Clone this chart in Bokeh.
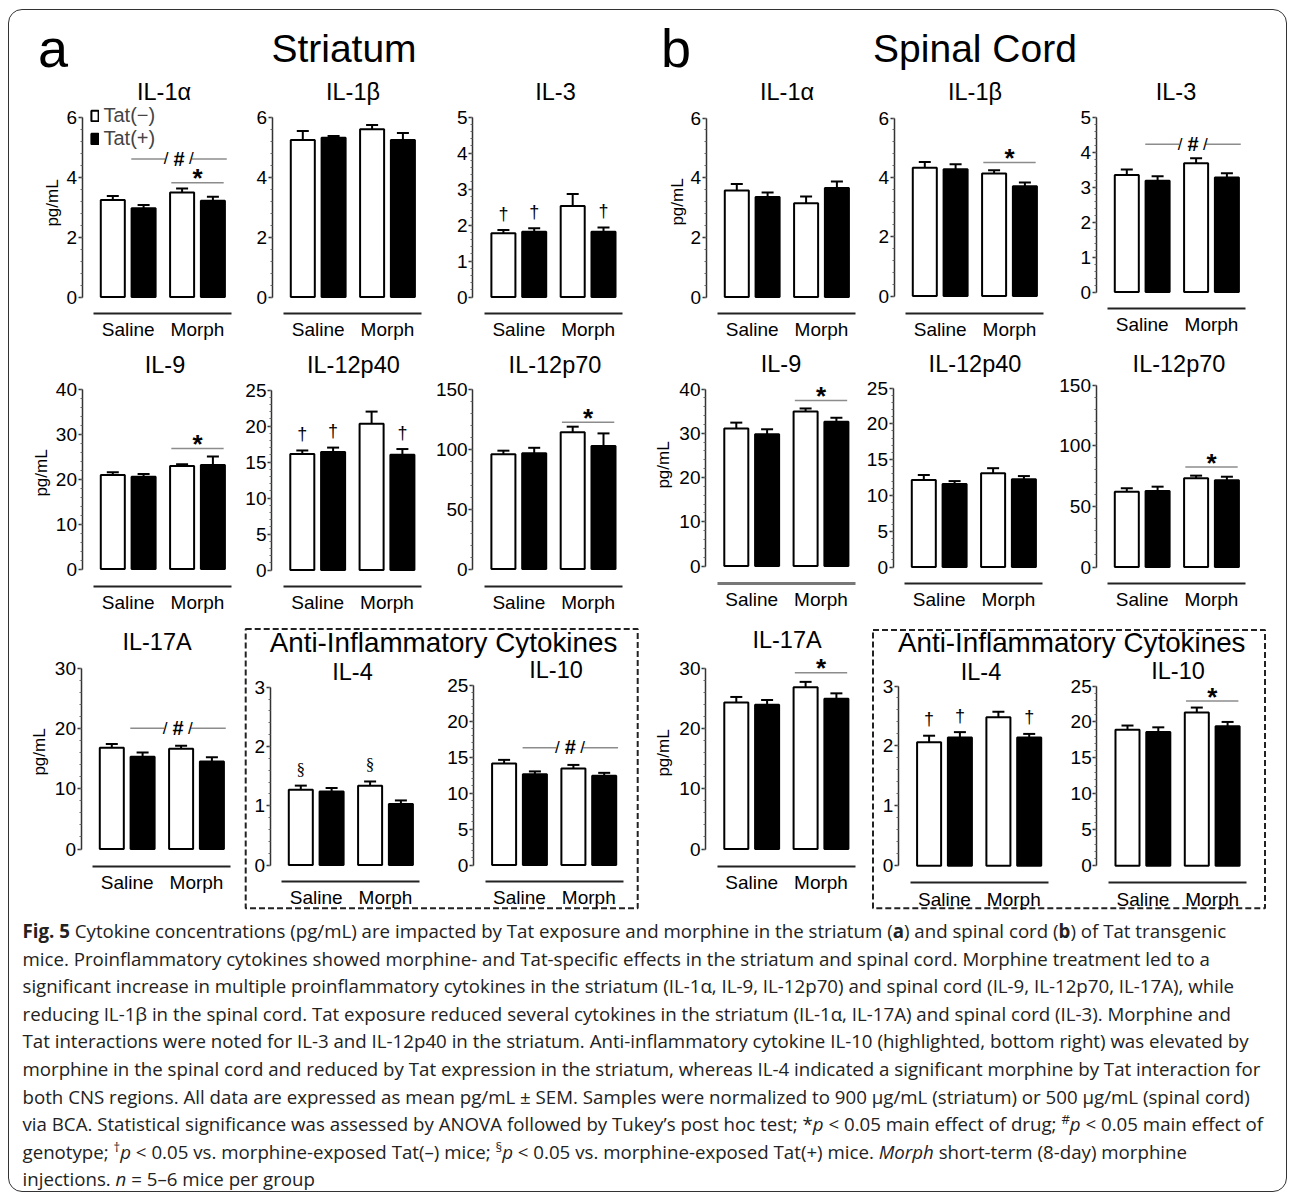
import math
from bokeh.plotting import figure
from bokeh.models import (Range1d, LinearAxis, FixedTicker, SingleIntervalTicker,
                          ColumnDataSource, Whisker, TeeHead, Legend, LegendItem, Div)
from bokeh.layouts import column
from bokeh.embed import file_html
from bokeh.resources import INLINE
from bokeh.core.properties import value

# ------------------------------------------------------------------ data
groups = ["Saline", "Morph"]
genotypes = ["Tat(−)", "Tat(+)"]
cytokines = ["IL-1α", "IL-1β", "IL-3", "IL-9", "IL-12p40", "IL-12p70", "IL-17A", "IL-4", "IL-10"]

striatum_ymax = [6, 6, 5, 40, 25, 150, 30, 3, 25]
striatum_step = [2, 2, 1, 10, 5, 50, 10, 1, 5]
# order: Saline Tat(-), Saline Tat(+), Morph Tat(-), Morph Tat(+)
striatum_mean = [
    [3.23, 2.96, 3.48, 3.21],
    [5.23, 5.31, 5.59, 5.23],
    [1.77, 1.81, 2.53, 1.81],
    [20.9, 20.5, 22.9, 23.1],
    [16.1, 16.4, 20.3, 16.0],
    [95.6, 96.4, 113.9, 102.5],
    [16.8, 15.3, 16.6, 14.5],
    [1.27, 1.24, 1.34, 1.03],
    [14.1, 12.6, 13.4, 12.4],
]
striatum_sem = [
    [0.14, 0.11, 0.14, 0.13],
    [0.30, 0.06, 0.14, 0.24],
    [0.09, 0.10, 0.33, 0.12],
    [0.6, 0.6, 0.4, 1.9],
    [0.5, 0.6, 1.7, 0.8],
    [3.0, 4.6, 4.7, 10.5],
    [0.6, 0.7, 0.5, 0.7],
    [0.07, 0.06, 0.07, 0.06],
    [0.5, 0.4, 0.5, 0.4],
]
striatum_drug = [3.81, None, None, 26.8, None, 122.2, None, None, None]      # * bar level
striatum_geno = [4.6, None, None, None, None, None, 20.0, None, 16.3]        # # bar level
striatum_dagger = [[], [], [0, 1, 3], [], [0, 1, 3], [], [], [], []]
striatum_section = [[], [], [], [], [], [], [], [0, 2], []]

spinal_ymax = [6, 6, 5, 40, 25, 150, 30, 3, 25]
spinal_step = [2, 2, 1, 10, 5, 50, 10, 1, 5]
spinal_mean = [
    [3.57, 3.35, 3.14, 3.65],
    [4.32, 4.27, 4.13, 3.70],
    [3.34, 3.18, 3.68, 3.27],
    [31.1, 29.8, 34.9, 32.6],
    [12.15, 11.6, 13.1, 12.25],
    [62.1, 62.7, 73.1, 71.5],
    [24.3, 23.9, 26.8, 24.9],
    [2.06, 2.14, 2.48, 2.14],
    [18.9, 18.6, 21.3, 19.4],
]
spinal_sem = [
    [0.22, 0.15, 0.23, 0.22],
    [0.20, 0.17, 0.11, 0.13],
    [0.16, 0.13, 0.14, 0.12],
    [1.3, 1.1, 0.7, 0.9],
    [0.7, 0.4, 0.7, 0.45],
    [2.8, 3.5, 2.2, 2.9],
    [0.9, 0.8, 0.9, 0.9],
    [0.11, 0.09, 0.09, 0.06],
    [0.6, 0.65, 0.7, 0.6],
]
spinal_drug = [None, 4.50, None, 37.4, None, 82.4, 29.2, None, 22.9]
spinal_geno = [None, None, 4.22, None, None, None, None, None, None]
spinal_dagger = [[], [], [], [], [], [], [], [0, 1, 3], []]
spinal_section = [[], [], [], [], [], [], [], [], []]

caption_lines = [
    "<b>Fig. 5</b> Cytokine concentrations (pg/mL) are impacted by Tat exposure and morphine in the striatum (<b>a</b>) and spinal cord (<b>b</b>) of Tat transgenic",
    "mice. Proinflammatory cytokines showed morphine- and Tat-specific effects in the striatum and spinal cord. Morphine treatment led to a",
    "significant increase in multiple proinflammatory cytokines in the striatum (IL-1α, IL-9, IL-12p70) and spinal cord (IL-9, IL-12p70, IL-17A), while",
    "reducing IL-1β in the spinal cord. Tat exposure reduced several cytokines in the striatum (IL-1α, IL-17A) and spinal cord (IL-3). Morphine and",
    "Tat interactions were noted for IL-3 and IL-12p40 in the striatum. Anti-inflammatory cytokine IL-10 (highlighted, bottom right) was elevated by",
    "morphine in the spinal cord and reduced by Tat expression in the striatum, whereas IL-4 indicated a significant morphine by Tat interaction for",
    "both CNS regions. All data are expressed as mean pg/mL ± SEM. Samples were normalized to 900 μg/mL (striatum) or 500 μg/mL (spinal cord)",
    "via BCA. Statistical significance was assessed by ANOVA followed by Tukey’s post hoc test; *<i>p</i> &lt; 0.05 main effect of drug; <sup>#</sup><i>p</i> &lt; 0.05 main effect of",
    "genotype; <sup>†</sup><i>p</i> &lt; 0.05 vs. morphine-exposed Tat(–) mice; <sup>§</sup><i>p</i> &lt; 0.05 vs. morphine-exposed Tat(+) mice. <i>Morph</i> short-term (8-day) morphine",
    "injections. <i>n</i> = 5–6 mice per group",
]

# ------------------------------------------------------------------ layout (page px)
striatum_geo = [
    dict(ax=82, y0=297, yt=117, line=313, tx=164, tb=100, ylab=(52, 203)),
    dict(ax=272, y0=297, yt=117, line=313, tx=353, tb=100),
    dict(ax=472.6, y0=297, yt=117, line=313, tx=555.5, tb=100),
    dict(ax=82, y0=569, yt=389, line=586, tx=165, tb=373, ylab=(41, 473)),
    dict(ax=271.5, y0=570, yt=390, line=586, tx=353.4, tb=373),
    dict(ax=472.6, y0=569, yt=389, line=586, tx=555, tb=373),
    dict(ax=81, y0=849, yt=668, line=866, tx=157, tb=650, ylab=(39, 752)),
    dict(ax=270, y0=865, yt=687.3, line=881, tx=352.5, tb=680),
    dict(ax=473.3, y0=865, yt=685, line=881, tx=556, tb=678),
]
spinal_geo = [
    dict(ax=706, y0=297, yt=118, line=313, tx=787, tb=100, ylab=(677, 202)),
    dict(ax=894, y0=296, yt=118, line=313, tx=975, tb=100),
    dict(ax=1096, y0=292, yt=117, line=308, tx=1176, tb=100),
    dict(ax=705.5, y0=566, yt=389, line=583, tx=781, tb=372, ylab=(663, 465), lc="#777", lw=3),
    dict(ax=893, y0=567, yt=388, line=583, tx=975, tb=372),
    dict(ax=1096, y0=567, yt=385, line=583, tx=1179, tb=372),
    dict(ax=705.5, y0=849, yt=668, line=866, tx=787, tb=648, ylab=(663, 753)),
    dict(ax=898.3, y0=865.7, yt=686, line=882.5, tx=981, tb=680),
    dict(ax=1096.7, y0=865.7, yt=686, line=882.5, tx=1178, tb=679),
]

W, HF, HC = 1277, 906, 275
MARGIN_TOP, MARGIN_LEFT, BORDER = 9, 8, 1.5
OX, OY = MARGIN_LEFT + BORDER, MARGIN_TOP + BORDER   # page position of the figure origin
SX = 30.8                  # px per x unit inside a panel
FONT = "Liberation Sans"
MID = 0.36                 # em distance from alphabetic baseline to em-box middle


def fx(xp):
    return xp - OX


def fy(yp):
    return yp - OY


p = figure(width=W, height=HF, x_range=Range1d(0, W), y_range=Range1d(HF, 0),
           x_axis_type=None, y_axis_type=None, toolbar_location=None,
           output_backend="svg", min_border=0, outline_line_color=None,
           background_fill_alpha=0, border_fill_alpha=0)


def txt(x, y, s, size, upu=-1.0, align="center", baseline="alphabetic", bold=False,
        font=FONT, angle=0.0, color="black", **kw):
    # y is given as the alphabetic baseline; rendered with a "middle" anchor
    if baseline == "alphabetic":
        y = y + upu * MID * size
        baseline = "middle"
    p.text(x=[x], y=[y], text=[s], text_font=value(font), text_font_size="%gpx" % size,
           text_align=align, text_baseline=baseline, angle=angle, text_color=color,
           text_font_style="bold" if bold else "normal", **kw)


def draw_panel(key, name, ymax, step, mean, sem, drug, geno, dag, sec, g, legend=False):
    axf = g["ax"] - OX
    pxu = (g["y0"] - g["yt"]) / ymax
    y0f = g["y0"] - OY
    xn, yn = "x" + key, "y" + key
    p.extra_x_ranges[xn] = Range1d(-axf / SX, (W - axf) / SX)
    p.extra_y_ranges[yn] = Range1d(-(HF - y0f) / pxu, y0f / pxu)
    kw = dict(x_range_name=xn, y_range_name=yn)
    up = 1.0 / pxu

    xs = [1 + gi * 2.25 + ti for gi in range(len(groups)) for ti in range(len(genotypes))]
    hi = [m + e for m, e in zip(mean, sem)]
    rends = []
    for ti, fill in enumerate(["white", "black"]):
        idx = [gi * 2 + ti for gi in range(len(groups))]
        src = ColumnDataSource(dict(x=[xs[i] for i in idx], top=[mean[i] for i in idx],
                                    hi=[hi[i] for i in idx]))
        r = p.vbar(x="x", top="top", bottom=0, width=0.78, source=src, fill_color=fill,
                   line_color="black", line_width=2, **kw)
        p.add_layout(Whisker(source=src, base="x", lower="top", upper="hi", dimension="height",
                             line_width=2, line_color="black",
                             upper_head=TeeHead(size=12, line_width=2, line_color="black"),
                             lower_head=None, **kw))
        rends.append(r)

    yax = LinearAxis(fixed_location=0, bounds=(0, ymax),
                     ticker=SingleIntervalTicker(interval=step, num_minor_ticks=5),
                     axis_line_width=1.5, axis_line_color="#333",
                     major_tick_out=4, major_tick_in=0, major_tick_line_width=1.5,
                     major_tick_line_color="#333",
                     minor_tick_out=2, minor_tick_in=0, minor_tick_line_color="#666",
                     major_label_standoff=1, major_label_text_font_size="19px",
                     major_label_text_font=FONT, major_label_text_color="black", **kw)
    p.add_layout(yax, "left")

    lv = -(g["line"] - g["y0"]) / pxu
    centers = [(xs[0] + xs[1]) / 2, (xs[2] + xs[3]) / 2]
    overrides = {}
    for c, gname in zip(centers, groups):
        overrides[c] = gname
        overrides[str(c)] = gname
    xax = LinearAxis(fixed_location=lv, bounds=(0.38, 4.87),
                     ticker=FixedTicker(ticks=centers, minor_ticks=[]),
                     major_label_overrides=overrides,
                     axis_line_width=g.get("lw", 2), axis_line_color=g.get("lc", "#222"),
                     major_tick_out=0, major_tick_in=0, major_tick_line_color=None,
                     minor_tick_line_color=None, major_label_standoff=6,
                     major_label_text_font_size="19px", major_label_text_font=FONT,
                     major_label_text_color="black", **kw)
    p.add_layout(xax, "below")

    # significance: drug effect (*)
    if drug is not None:
        p.segment(x0=[2.9], x1=[4.6], y0=[drug], y1=[drug], line_color="#8c8c8c",
                  line_width=1.5, **kw)
        txt(3.75, drug - 5 * up, "*", 26, upu=up, bold=True, **kw)
    # genotype effect (#)
    if geno is not None:
        mid = 3.15
        p.segment(x0=[1.6, mid + 0.42], x1=[mid - 0.45, 4.7], y0=[geno, geno], y1=[geno, geno],
                  line_color="#8c8c8c", line_width=1.5, **kw)
        txt(mid, geno - 7 * up, "#", 20, upu=up, bold=True, **kw)
        txt(mid - 0.42, geno - 6 * up, "/", 17, upu=up, **kw)
        txt(mid + 0.40, geno - 6 * up, "/", 17, upu=up, **kw)
    for i in dag:
        txt(xs[i], hi[i] + 10 * up, "†", 18, upu=up, **kw)
    for i in sec:
        txt(xs[i], hi[i] + 10.5 * up, "§", 17, upu=up, font="Liberation Serif", **kw)

    # title and y label
    txt(fx(g["tx"]), fy(g["tb"]), name, 23.5)
    if "ylab" in g:
        txt(fx(g["ylab"][0]), fy(g["ylab"][1]), "pg/mL", 17, baseline="middle",
            angle=math.pi / 2)

    if legend:
        lg = Legend(items=[LegendItem(label=value(genotypes[0]), renderers=[rends[0]]),
                           LegendItem(label=value(genotypes[1]), renderers=[rends[1]])],
                    location=(fx(90), HF - fy(150)), border_line_color=None,
                    background_fill_alpha=0, label_text_font_size="20px",
                    label_text_font=FONT, glyph_width=9, glyph_height=13,
                    label_standoff=5, spacing=0, padding=0, margin=0, label_height=22)
        p.add_layout(lg)


for i, name in enumerate(cytokines):
    draw_panel("s%d" % i, name, striatum_ymax[i], striatum_step[i], striatum_mean[i],
               striatum_sem[i], striatum_drug[i], striatum_geno[i], striatum_dagger[i],
               striatum_section[i], striatum_geo[i], legend=(i == 0))
    draw_panel("c%d" % i, name, spinal_ymax[i], spinal_step[i], spinal_mean[i],
               spinal_sem[i], spinal_drug[i], spinal_geno[i], spinal_dagger[i],
               spinal_section[i], spinal_geo[i])

# headings
txt(fx(38), fy(67), "a", 54, align="left")
txt(fx(344), fy(63), "Striatum", 39)
txt(fx(661), fy(67), "b", 54, align="left")
txt(fx(975), fy(63), "Spinal Cord", 39)

# anti-inflammatory boxes
for (l, r, t, b, cx) in [(245.7, 637.7, 629, 908.3, 443.5), (873, 1265, 630, 908.3, 1071.7)]:
    p.quad(left=[fx(l)], right=[fx(r)], top=[fy(t)], bottom=[fy(b)], fill_color=None,
           line_color="#222", line_width=2, line_dash="6 3")
    txt(fx(cx), fy(653), "Anti-Inflammatory Cytokines", 27.8)

# caption
html = ("<div style=\"font-family:'Open Sans';font-size:18.7px;line-height:27.6px;"
        "white-space:nowrap;color:#222;padding-left:13.5px;padding-top:1px;\">"
        + "<br>".join(l.replace("<sup>", "<sup style='font-size:70%;line-height:0'>")
                      for l in caption_lines)
        + "</div>")
cap = Div(text=html, width=W, height=HC, margin=0)

layout = column(p, cap, margin=(MARGIN_TOP, 0, 0, MARGIN_LEFT),
                styles={"border": "1.5px solid #333", "border-radius": "14px"})

open("out.html", "w").write(file_html(layout, INLINE))
